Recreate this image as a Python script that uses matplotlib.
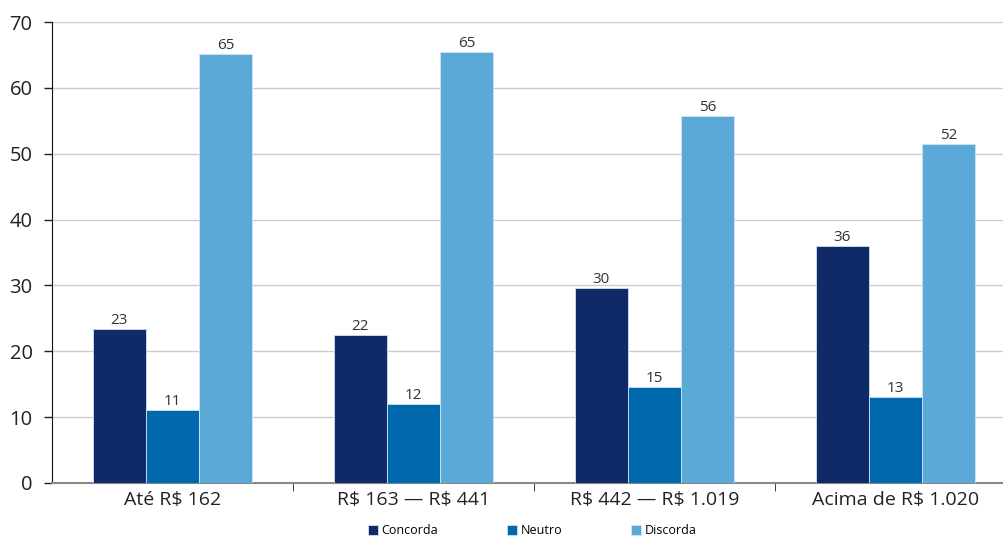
import matplotlib.pyplot as plt
import numpy as np

plt.rcParams['font.family'] = ['Open Sans', 'DejaVu Sans']
plt.rcParams['text.parse_math'] = False

categorias = ['Até R$ 162', 'R$ 163 — R$ 441', 'R$ 442 — R$ 1.019', 'Acima de R$ 1.020']
concorda = [23.4, 22.5, 29.6, 36.0]
neutro = [11.1, 12.0, 14.6, 13.0]
discorda = [65.1, 65.4, 55.7, 51.5]
series = ['Concorda', 'Neutro', 'Discorda']
cores = ['#0f2a66', '#0068ad', '#5ba9d6']

fig = plt.figure(figsize=(10.04, 5.42), dpi=100)
ax = fig.add_axes([52/1004, 1 - 483/542, 964/1004, 461/542])

x = np.arange(len(categorias))
w = 0.221
for i, (vals, nome, cor) in enumerate(zip([concorda, neutro, discorda], series, cores)):
    barras = ax.bar(x + (i - 1) * w, vals, w, color=cor, label=nome,
                    edgecolor='#cfe3f2', linewidth=0.6, zorder=3)
    for b, v in zip(barras, vals):
        ax.text(b.get_x() + b.get_width() / 2, v + 0.2, '%d' % round(v),
                ha='center', va='bottom', fontsize=11, color='#333333', zorder=4)

ax.set_xlim(-0.5, 3.5)
ax.set_ylim(0, 70)
ax.set_yticks(range(0, 71, 10))
ax.tick_params(axis='y', labelsize=14.5, length=6, width=1, colors='#222222', pad=8)
ax.set_xticks(x)
ax.set_xticklabels(categorias, fontsize=14, color='#222222')
ax.set_xticks([0.5, 1.5, 2.5], minor=True)
ax.tick_params(axis='x', which='major', length=0, pad=6)
ax.tick_params(axis='x', which='minor', length=6, color='#222222')
ax.grid(axis='y', color='#cccccc', linewidth=1, zorder=0)
for s in ['top', 'right']:
    ax.spines[s].set_visible(False)
ax.spines['left'].set_color('#111111')
ax.spines['bottom'].set_color('#888888')
ax.spines['bottom'].set_linewidth(1.5)

fig.legend(loc='lower center', bbox_to_anchor=(0.53, -0.012), ncol=3, frameon=False,
           fontsize=9, handlelength=0.8, handleheight=0.8, handletextpad=0.3,
           columnspacing=5.5)

fig.savefig('out.png', dpi=100)
